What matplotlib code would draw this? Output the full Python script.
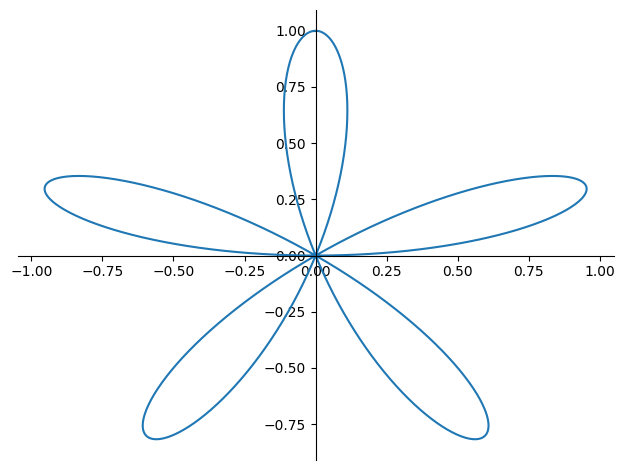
import matplotlib
matplotlib.use("Agg")
import matplotlib.pyplot as plt
import numpy as np

# rose curve r = sin(k * theta); odd k closes after one half turn
PETALS = 5
AMPLITUDE = 1.0
N_SAMPLES = 1000

theta = np.linspace(0, np.pi, N_SAMPLES)
r = AMPLITUDE * np.sin(PETALS * theta)
x = r * np.cos(theta)
y = r * np.sin(theta)

fig, ax = plt.subplots(figsize=(6.25, 4.7), dpi=100)
ax.plot(x, y, color="#1f77b4", lw=1.5)

ax.spines["left"].set_position("zero")
ax.spines["bottom"].set_position("zero")
ax.spines["right"].set_visible(False)
ax.spines["top"].set_visible(False)

fig.subplots_adjust(left=0.028, right=0.982, top=0.978, bottom=0.022)
fig.savefig("out.png", dpi=100)
